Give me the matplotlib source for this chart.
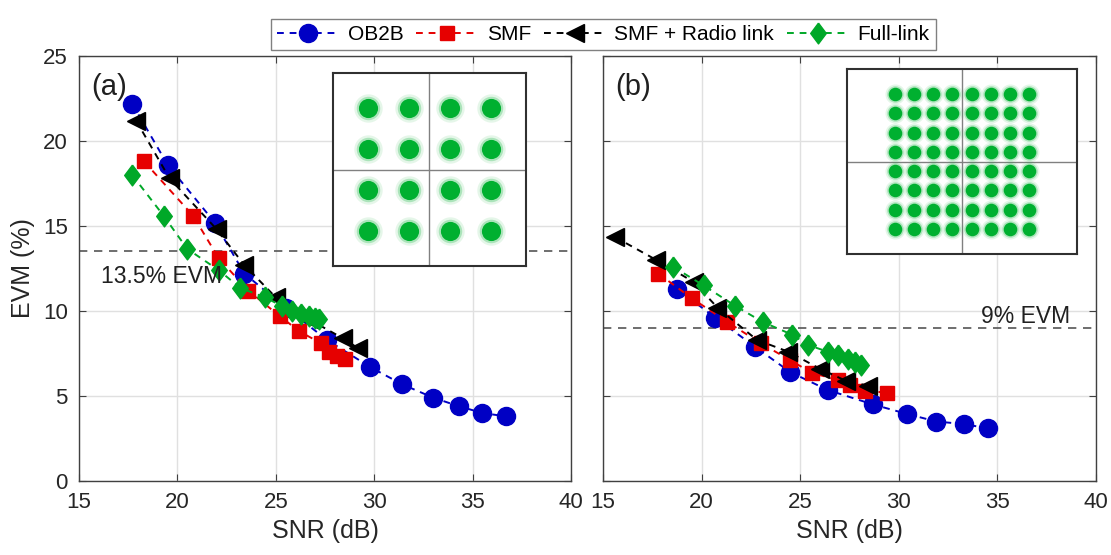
import numpy as np
import matplotlib
matplotlib.use("Agg")
import matplotlib.pyplot as plt

plt.rcParams['font.family'] = ['Liberation Sans', 'DejaVu Sans']

# ---- donnees ----
# (a) 16-QAM
snr_ob2b_a = [17.7, 19.5, 21.9, 23.4, 25.5, 27.6, 29.8, 31.4, 33.0, 34.3, 35.5, 36.7]
evm_ob2b_a = [22.2, 18.6, 15.2, 12.2, 10.2, 8.3, 6.7, 5.7, 4.9, 4.4, 4.0, 3.8]
snr_smf_a = [18.3, 20.8, 22.1, 23.6, 25.2, 26.2, 27.3, 27.7, 28.1, 28.5]
evm_smf_a = [18.8, 15.6, 13.1, 11.2, 9.7, 8.8, 8.1, 7.6, 7.35, 7.2]
snr_radio_a = [17.9, 19.6, 22.0, 23.4, 25.0, 26.7, 28.4, 29.2]
evm_radio_a = [21.2, 17.8, 14.8, 12.7, 10.8, 9.5, 8.4, 7.8]
snr_full_a = [17.7, 19.3, 20.5, 22.1, 23.2, 24.45, 25.3, 25.8, 26.3, 26.7, 27.0, 27.2]
evm_full_a = [18.0, 15.6, 13.65, 12.4, 11.35, 10.8, 10.3, 10.0, 9.8, 9.7, 9.6, 9.5]

# (b) 64-QAM
snr_ob2b_b = [18.75, 20.7, 22.7, 24.5, 26.4, 28.7, 30.4, 31.9, 33.3, 34.5]
evm_ob2b_b = [11.3, 9.6, 7.9, 6.4, 5.35, 4.5, 3.95, 3.5, 3.35, 3.1]
snr_smf_b = [17.8, 19.5, 21.3, 23.0, 24.5, 25.6, 26.9, 27.5, 28.3, 29.4]
evm_smf_b = [12.2, 10.75, 9.35, 8.1, 7.1, 6.35, 5.95, 5.65, 5.3, 5.2]
snr_radio_b = [15.6, 17.7, 19.6, 20.8, 22.8, 24.4, 26.0, 27.3, 28.45]
evm_radio_b = [14.35, 13.0, 11.7, 10.2, 8.3, 7.6, 6.6, 5.9, 5.6]
snr_full_b = [18.55, 20.1, 21.7, 23.1, 24.6, 25.4, 26.4, 26.9, 27.4, 27.8, 28.1]
evm_full_b = [12.6, 11.5, 10.3, 9.35, 8.6, 8.0, 7.6, 7.4, 7.2, 7.0, 6.85]

seuil_a = 13.5
seuil_b = 9.0

niveaux_16qam = [-3, -1, 1, 3]
niveaux_64qam = [-7, -5, -3, -1, 1, 3, 5, 7]

BLEU = '#0000c4'
ROUGE = '#e60000'
NOIR = '#000000'
VERT = '#00a828'
VERT_CONST = '#00b030'

losange = [(0, 1), (0.75, 0), (0, -1), (-0.75, 0), (0, 1)]
tirets = (0, (3.5, 3))


def tracer_courbes(ax, series):
    handles = []
    for snr, evm, coul, mk, ms, lab in series:
        h, = ax.plot(snr, evm, linestyle=tirets, color=coul, lw=1.4, marker=mk,
                     markersize=ms, markerfacecolor=coul, markeredgecolor=coul,
                     label=lab)
        handles.append(h)
    return handles


def style_axe(ax):
    ax.set_xlim(15, 40)
    ax.set_ylim(0, 25)
    ax.set_xticks([15, 20, 25, 30, 35, 40])
    ax.set_yticks([0, 5, 10, 15, 20, 25])
    ax.grid(True, color='#e0e0e0', lw=1.0)
    ax.set_axisbelow(True)
    ax.tick_params(direction='in', length=5, top=True, right=True,
                   labelsize=16, color='#404040', labelcolor='#262626', pad=8)
    for s in ax.spines.values():
        s.set_color('#404040')
        s.set_linewidth(1.0)
    ax.set_xlabel('SNR (dB)', fontsize=18, color='#262626')


def constellation(rect, niveaux, lim_x, lim_y, taille):
    axi = fig.add_axes(rect)
    xs = [i for i in niveaux for j in niveaux]
    ys = [j for i in niveaux for j in niveaux]
    axi.scatter(xs, ys, s=taille * 2.2, color=VERT_CONST, alpha=0.10, lw=0)
    axi.scatter(xs, ys, s=taille * 1.5, color=VERT_CONST, alpha=0.25, lw=0)
    axi.scatter(xs, ys, s=taille, color=VERT_CONST, lw=0)
    axi.axhline(0, color='#808080', lw=1.0, zorder=0)
    axi.axvline(0, color='#808080', lw=1.0, zorder=0)
    axi.set_xlim(-lim_x, lim_x)
    axi.set_ylim(-lim_y, lim_y)
    axi.set_xticks([])
    axi.set_yticks([])
    for s in axi.spines.values():
        s.set_color('#303030')
        s.set_linewidth(1.5)
    return axi


fig = plt.figure(figsize=(11.11, 5.55), dpi=100)
ax_a = fig.add_axes([0.0711, 0.1333, 0.4428, 0.766])
ax_b = fig.add_axes([0.5428, 0.1333, 0.4437, 0.766])

series_a = [
    (snr_ob2b_a, evm_ob2b_a, BLEU, 'o', 13, 'OB2B'),
    (snr_smf_a, evm_smf_a, ROUGE, 's', 10, 'SMF'),
    (snr_radio_a, evm_radio_a, NOIR, '<', 13, 'SMF + Radio link'),
    (snr_full_a, evm_full_a, VERT, losange, 15, 'Full-link'),
]
series_b = [
    (snr_ob2b_b, evm_ob2b_b, BLEU, 'o', 13, 'OB2B'),
    (snr_smf_b, evm_smf_b, ROUGE, 's', 10, 'SMF'),
    (snr_radio_b, evm_radio_b, NOIR, '<', 13, 'SMF + Radio link'),
    (snr_full_b, evm_full_b, VERT, losange, 15, 'Full-link'),
]

handles = tracer_courbes(ax_a, series_a)
tracer_courbes(ax_b, series_b)

style_axe(ax_a)
style_axe(ax_b)
ax_b.tick_params(labelleft=False)
ax_a.set_ylabel('EVM (%)', fontsize=18, color='#262626', labelpad=6)

ax_a.axhline(seuil_a, color='#555555', lw=1.2, linestyle=(0, (5, 4)), zorder=1.5)
ax_b.axhline(seuil_b, color='#555555', lw=1.2, linestyle=(0, (5, 4)), zorder=1.5)
ax_a.text(16.1, 12.0, '13.5% EVM', fontsize=16.5, va='center', ha='left', color='#202020')
ax_b.text(38.7, 9.7, '9% EVM', fontsize=16.5, va='center', ha='right', color='#202020')

ax_a.text(0.025, 0.96, '(a)', transform=ax_a.transAxes, fontsize=21, va='top', ha='left',
          color='#202020')
ax_b.text(0.025, 0.96, '(b)', transform=ax_b.transAxes, fontsize=21, va='top', ha='left',
          color='#202020')

constellation([0.2997, 0.5207, 0.1737, 0.3477], niveaux_16qam, 4.7, 4.7, 190)
constellation([0.7624, 0.5423, 0.2070, 0.3333], niveaux_64qam, 12.0, 9.6, 95)

leg = fig.legend(handles=handles, loc='upper center', bbox_to_anchor=(0.543, 0.985),
                 ncol=4, fontsize=15, frameon=True, fancybox=False, handlelength=3.0,
                 columnspacing=0.6, handletextpad=0.4, borderpad=0.3)
leg.get_frame().set_edgecolor('#606060')
leg.get_frame().set_linewidth(1.0)

fig.savefig('out.png', dpi=100)
